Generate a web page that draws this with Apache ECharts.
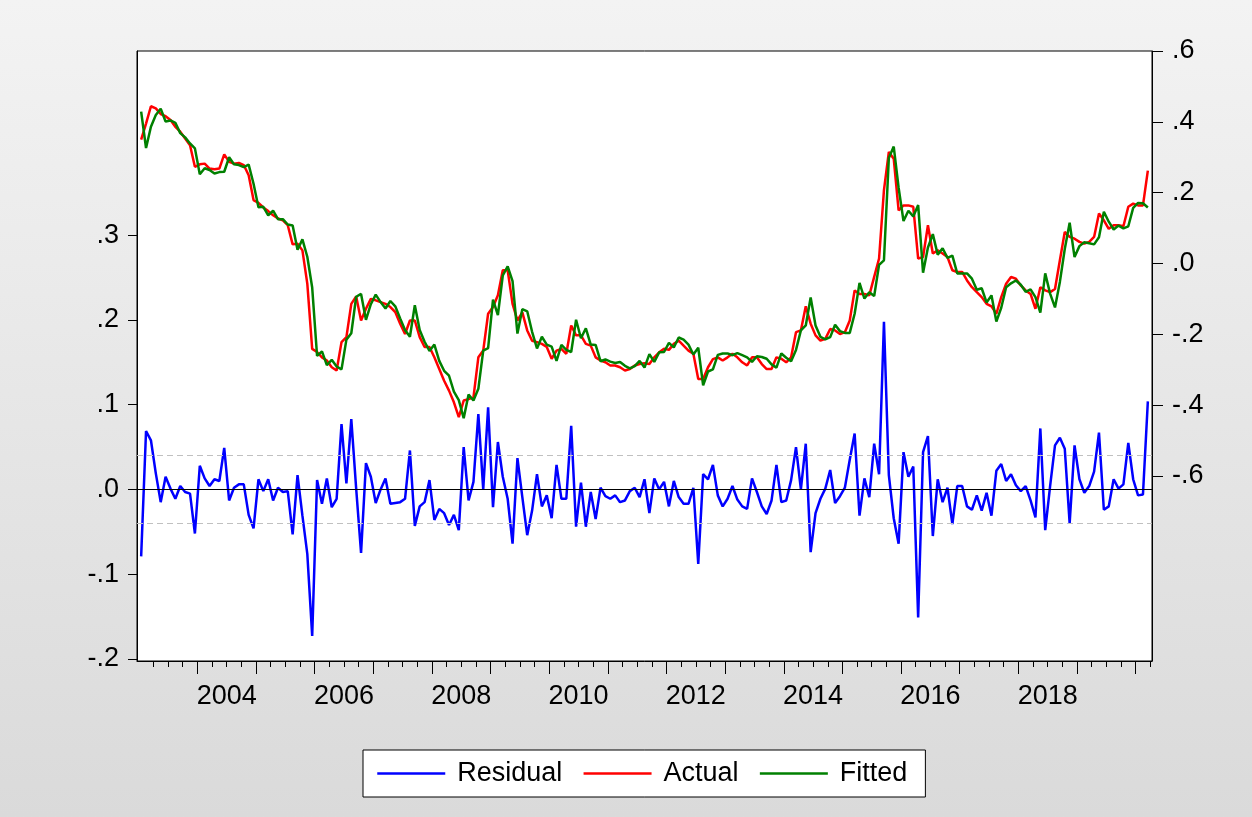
<!DOCTYPE html>
<html>
<head>
<meta charset="utf-8">
<script src="https://cdn.jsdelivr.net/npm/echarts@6/dist/echarts.min.js"></script>
<style>
  html, body { margin: 0; padding: 0; background: #ffffff; }
  #chart { width: 1252px; height: 817px; }
</style>
</head>
<body>
<div id="chart"></div>
<script>
// Monthly observations, 2003M01 - 2020M03
const startYear = 2003;

// Residual (left axis)
const residual = [
  -0.079, 0.069, 0.058, 0.019, -0.015, 0.015, 0.001, -0.011, 0.004, -0.003, -0.005, -0.052,
  0.028, 0.013, 0.004, 0.012, 0.010, 0.049, -0.013, 0.002, 0.006, 0.006, -0.030, -0.046,
  0.012, -0.002, 0.012, -0.013, 0.002, -0.003, -0.002, -0.053, 0.017, -0.031, -0.076, -0.173,
  0.011, -0.017, 0.013, -0.021, -0.011, 0.077, 0.007, 0.083, 0.001, -0.075, 0.031, 0.015,
  -0.016, 0.000, 0.013, -0.017, -0.016, -0.015, -0.011, 0.046, -0.043, -0.020, -0.015, 0.011,
  -0.036, -0.023, -0.028, -0.042, -0.030, -0.048, 0.050, -0.013, 0.009, 0.089, 0.000, 0.097,
  -0.021, 0.056, 0.015, -0.011, -0.064, 0.037, -0.009, -0.054, -0.025, 0.018, -0.020, -0.007,
  -0.034, 0.029, -0.011, -0.011, 0.075, -0.044, 0.008, -0.044, -0.003, -0.035, 0.002, -0.008,
  -0.011, -0.007, -0.015, -0.013, -0.002, 0.002, -0.009, 0.012, -0.028, 0.013, 0.000, 0.009,
  -0.020, 0.010, -0.009, -0.017, -0.017, 0.002, -0.088, 0.018, 0.012, 0.029, -0.007, -0.020,
  -0.011, 0.004, -0.012, -0.020, -0.023, 0.013, -0.003, -0.020, -0.029, -0.013, 0.029, -0.015,
  -0.013, 0.011, 0.050, 0.000, 0.054, -0.074, -0.028, -0.011, 0.001, 0.023, -0.016, -0.008,
  0.002, 0.035, 0.066, -0.031, 0.013, -0.009, 0.054, 0.018, 0.198, 0.017, -0.034, -0.064,
  0.044, 0.015, 0.027, -0.151, 0.044, 0.063, -0.055, 0.012, -0.015, 0.002, -0.041, 0.004,
  0.004, -0.020, -0.024, -0.007, -0.025, -0.004, -0.031, 0.022, 0.030, 0.010, 0.018, 0.005,
  -0.002, 0.004, -0.013, -0.033, 0.072, -0.048, 0.004, 0.052, 0.061, 0.048, -0.040, 0.052,
  0.012, -0.004, 0.004, 0.021, 0.067, -0.024, -0.020, 0.012, 0.001, 0.006, 0.055, 0.012,
  -0.007, -0.006, 0.104
];

// Actual (right axis)
const actual = [
  0.350, 0.395, 0.444, 0.438, 0.422, 0.416, 0.405, 0.386, 0.372, 0.353, 0.334, 0.273,
  0.280, 0.282, 0.268, 0.266, 0.268, 0.308, 0.287, 0.282, 0.284, 0.278, 0.249, 0.179,
  0.171, 0.158, 0.148, 0.136, 0.127, 0.122, 0.108, 0.054, 0.056, 0.037, -0.057, -0.241,
  -0.250, -0.265, -0.274, -0.293, -0.302, -0.222, -0.208, -0.114, -0.093, -0.161, -0.128, -0.100,
  -0.104, -0.109, -0.114, -0.123, -0.137, -0.170, -0.199, -0.161, -0.161, -0.208, -0.236, -0.236,
  -0.265, -0.298, -0.331, -0.359, -0.392, -0.434, -0.387, -0.383, -0.378, -0.265, -0.246, -0.142,
  -0.123, -0.090, -0.019, -0.019, -0.114, -0.161, -0.138, -0.189, -0.218, -0.222, -0.227, -0.236,
  -0.269, -0.246, -0.241, -0.255, -0.175, -0.203, -0.203, -0.227, -0.232, -0.265, -0.274, -0.279,
  -0.288, -0.288, -0.293, -0.302, -0.298, -0.288, -0.284, -0.282, -0.284, -0.265, -0.251, -0.241,
  -0.244, -0.227, -0.218, -0.232, -0.246, -0.255, -0.326, -0.326, -0.293, -0.270, -0.265, -0.274,
  -0.265, -0.255, -0.265, -0.279, -0.288, -0.265, -0.265, -0.284, -0.298, -0.298, -0.265, -0.269,
  -0.279, -0.265, -0.194, -0.189, -0.121, -0.170, -0.203, -0.218, -0.213, -0.185, -0.189, -0.199,
  -0.194, -0.161, -0.076, -0.086, -0.086, -0.090, -0.038, 0.014, 0.207, 0.315, 0.296, 0.150,
  0.164, 0.164, 0.160, 0.014, 0.018, 0.108, 0.028, 0.037, 0.028, 0.018, -0.019, -0.024,
  -0.024, -0.048, -0.067, -0.081, -0.095, -0.114, -0.121, -0.142, -0.095, -0.057, -0.038, -0.043,
  -0.062, -0.076, -0.086, -0.128, -0.067, -0.076, -0.081, -0.072, 0.009, 0.089, 0.075, 0.070,
  0.061, 0.056, 0.061, 0.075, 0.141, 0.122, 0.098, 0.108, 0.108, 0.105, 0.160, 0.169,
  0.164, 0.164, 0.262
];

// Fitted (right axis)
const fitted = [
  0.429, 0.326, 0.386, 0.419, 0.437, 0.401, 0.404, 0.397, 0.368, 0.356, 0.339, 0.325,
  0.252, 0.269, 0.264, 0.254, 0.258, 0.259, 0.300, 0.280, 0.278, 0.272, 0.279, 0.225,
  0.159, 0.160, 0.136, 0.149, 0.125, 0.125, 0.110, 0.107, 0.039, 0.068, 0.019, -0.068,
  -0.261, -0.248, -0.287, -0.272, -0.291, -0.299, -0.215, -0.197, -0.094, -0.086, -0.159, -0.115,
  -0.088, -0.109, -0.127, -0.106, -0.121, -0.155, -0.188, -0.207, -0.118, -0.188, -0.221, -0.247,
  -0.229, -0.275, -0.303, -0.317, -0.362, -0.386, -0.437, -0.370, -0.387, -0.354, -0.246, -0.239,
  -0.102, -0.146, -0.034, -0.008, -0.050, -0.198, -0.129, -0.135, -0.193, -0.240, -0.207, -0.229,
  -0.235, -0.275, -0.230, -0.244, -0.250, -0.159, -0.211, -0.183, -0.229, -0.230, -0.276, -0.271,
  -0.277, -0.281, -0.278, -0.289, -0.296, -0.290, -0.275, -0.294, -0.256, -0.278, -0.251, -0.250,
  -0.224, -0.237, -0.209, -0.215, -0.229, -0.257, -0.238, -0.344, -0.305, -0.299, -0.258, -0.254,
  -0.254, -0.259, -0.253, -0.259, -0.265, -0.278, -0.262, -0.264, -0.269, -0.285, -0.294, -0.254,
  -0.266, -0.276, -0.244, -0.189, -0.175, -0.096, -0.175, -0.207, -0.214, -0.208, -0.173, -0.191,
  -0.196, -0.196, -0.142, -0.055, -0.099, -0.081, -0.092, -0.004, 0.009, 0.298, 0.330, 0.214,
  0.120, 0.149, 0.133, 0.165, -0.026, 0.045, 0.083, 0.025, 0.043, 0.016, 0.022, -0.028,
  -0.028, -0.028, -0.043, -0.074, -0.070, -0.110, -0.090, -0.164, -0.125, -0.067, -0.056, -0.048,
  -0.060, -0.080, -0.073, -0.095, -0.139, -0.028, -0.085, -0.124, -0.052, 0.041, 0.115, 0.018,
  0.049, 0.060, 0.057, 0.054, 0.074, 0.146, 0.118, 0.096, 0.107, 0.099, 0.105, 0.157,
  0.171, 0.170, 0.158
];

// Axis labels
const yearLabels = ['2004', '2006', '2008', '2010', '2012', '2014', '2016', '2018'];
const leftTicks = [-0.2, -0.1, 0.0, 0.1, 0.2, 0.3];
const rightTicks = [-0.6, -0.4, -0.2, 0.0, 0.2, 0.4, 0.6];

// Standard error band drawn around the residual zero line
const residualSE = 0.0397;

const n = actual.length;
const font = "'Liberation Sans', Arial, sans-serif";
const toPoints = arr => arr.map((v, i) => [i, v]);

// Tick positions sit on month boundaries: quarters (short), years (long)
const quarterTicks = [];
for (let q = 2.5; q < n; q += 3) quarterTicks.push(q);
const yearTicks = [];
for (let t = 11.5; t < n; t += 12) yearTicks.push(t);
// Year labels are centred on the middle of each year
const yearLabelPos = yearLabels.map(y => (Number(y) - startYear) * 12 + 5.5);

const decimalFmt = v => {
  const s = (Math.round(v * 10) / 10).toFixed(1);
  return s.replace(/^(-?)0\./, '$1.');
};

const xMin = -0.85, xMax = n - 1 + 0.85;
const lineWidth = 2.5;

const chart = echarts.init(document.getElementById('chart'), null, { renderer: 'canvas' });

chart.setOption({
  animation: false,
  backgroundColor: {
    type: 'linear', x: 0, y: 0, x2: 0, y2: 1,
    colorStops: [
      { offset: 0, color: '#f3f3f3' },
      { offset: 1, color: '#dadada' }
    ]
  },
  textStyle: { fontFamily: font },
  grid: {
    left: 137, top: 51, right: 100, bottom: 156,
    show: true, backgroundColor: '#ffffff', borderColor: '#000000', borderWidth: 1
  },
  legend: {
    left: 363, top: 750,
    itemWidth: 68, itemHeight: 14, itemGap: 20,
    padding: [10, 18, 10, 13],
    borderColor: '#000000', borderWidth: 1, backgroundColor: '#ffffff',
    itemStyle: { opacity: 0 },
    lineStyle: { width: 2.5 },
    textStyle: { fontSize: 27, color: '#000000', fontFamily: font, padding: [0, 0, 0, 7] },
    data: ['Residual', 'Actual', 'Fitted']
  },
  xAxis: [
    {
      type: 'value', min: xMin, max: xMax, position: 'bottom',
      axisLine: { show: true, onZero: false, lineStyle: { color: '#000000', width: 1 } },
      axisTick: { show: true, customValues: quarterTicks, length: 6, lineStyle: { color: '#000000', width: 1 } },
      axisLabel: { show: false },
      splitLine: { show: false }
    },
    {
      type: 'value', min: xMin, max: xMax, position: 'bottom',
      axisLine: { show: false, onZero: false },
      axisTick: { show: true, customValues: yearTicks, length: 13, lineStyle: { color: '#000000', width: 1 } },
      axisLabel: {
        show: true, customValues: yearLabelPos,
        formatter: v => String(startYear + Math.floor((v + 0.5) / 12)),
        fontSize: 27, color: '#000000', fontFamily: font, margin: 22
      },
      splitLine: { show: false }
    }
  ],
  yAxis: [
    {
      type: 'value', position: 'left', min: -0.2025, max: 0.5175,
      axisLine: { show: true, onZero: false, lineStyle: { color: '#000000', width: 1 } },
      axisTick: { show: true, customValues: leftTicks, length: 9, lineStyle: { color: '#000000', width: 1 } },
      axisLabel: { show: true, customValues: leftTicks, formatter: decimalFmt, fontSize: 27, color: '#000000', fontFamily: font, margin: 18 },
      splitLine: { show: false }
    },
    {
      type: 'value', position: 'right', min: -1.1225, max: 0.6,
      axisLine: { show: true, onZero: false, lineStyle: { color: '#000000', width: 1 } },
      axisTick: { show: true, customValues: rightTicks, length: 11, lineStyle: { color: '#000000', width: 1 } },
      axisLabel: { show: true, customValues: rightTicks, formatter: decimalFmt, fontSize: 27, color: '#000000', fontFamily: font, margin: 20 },
      splitLine: { show: false }
    }
  ],
  series: [
    {
      name: 'Residual', type: 'line', xAxisIndex: 0, yAxisIndex: 0,
      data: toPoints(residual), symbol: 'none', color: '#0000ff',
      lineStyle: { color: '#0000ff', width: lineWidth },
      markLine: {
        silent: true, symbol: ['none', 'none'], label: { show: false },
        data: [
          { yAxis: 0, lineStyle: { color: '#000000', type: 'solid', width: 1 } },
          { yAxis: residualSE, lineStyle: { color: '#c0c0c0', type: [6, 4], width: 1 } },
          { yAxis: -residualSE, lineStyle: { color: '#c0c0c0', type: [6, 4], width: 1 } }
        ]
      }
    },
    {
      name: 'Actual', type: 'line', xAxisIndex: 0, yAxisIndex: 1,
      data: toPoints(actual), symbol: 'none', color: '#ff0000',
      lineStyle: { color: '#ff0000', width: lineWidth }
    },
    {
      name: 'Fitted', type: 'line', xAxisIndex: 0, yAxisIndex: 1,
      data: toPoints(fitted), symbol: 'none', color: '#008000',
      lineStyle: { color: '#008000', width: lineWidth }
    }
  ]
});
</script>
</body>
</html>
